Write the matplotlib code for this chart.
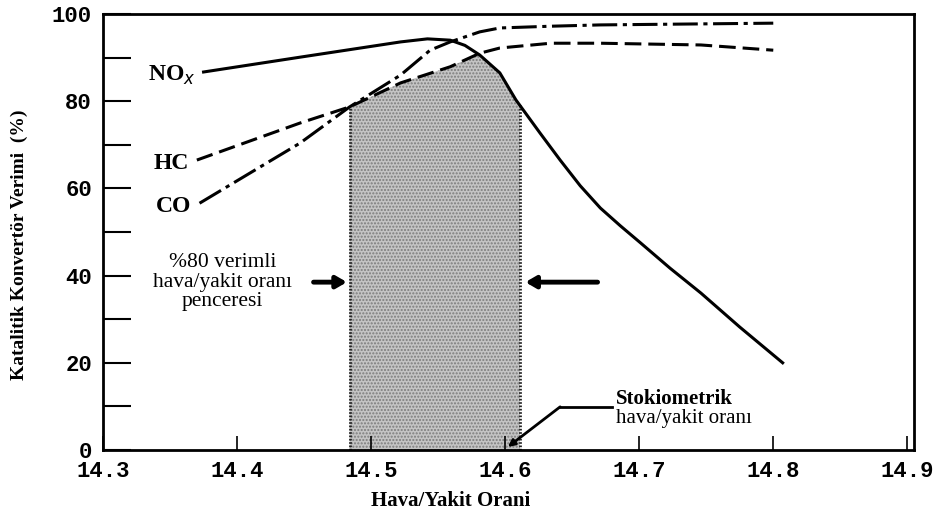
import numpy as np
import matplotlib.pyplot as plt

plt.rcParams['lines.scale_dashes'] = False

# values
nox_x = [14.375, 14.447, 14.522, 14.542, 14.559, 14.570, 14.581, 14.596,
         14.608, 14.626, 14.641, 14.656, 14.671, 14.686, 14.701, 14.723,
         14.746, 14.775, 14.807]
nox_y = [86.7, 90.1, 93.6, 94.3, 94.0, 92.8, 90.6, 86.5,
         80.3, 72.7, 66.5, 60.6, 55.5, 51.4, 47.5, 41.7,
         36.0, 28.2, 20.0]

hc_x = [14.370, 14.447, 14.484, 14.522, 14.559, 14.581, 14.596, 14.634,
        14.671, 14.746, 14.800]
hc_y = [66.5, 75.0, 78.7, 84.2, 87.9, 91.0, 92.2, 93.3, 93.3, 92.9, 91.7]

co_x = [14.372, 14.447, 14.484, 14.522, 14.544, 14.559, 14.581, 14.596,
        14.634, 14.671, 14.800]
co_y = [56.6, 70.4, 78.7, 86.0, 91.7, 93.6, 95.9, 96.8, 97.2, 97.5, 97.9]

window = [14.484, 14.611]
stoich = 14.602

xticks = [14.3, 14.4, 14.5, 14.6, 14.7, 14.8, 14.9]
yticks = [0, 20, 40, 60, 80, 100]

if __name__ == "__main__":

    fig = plt.figure(figsize=(9.46, 5.15), dpi=100)
    ax = fig.add_axes([0.1089, 0.1262, 0.8573, 0.8466])

    ax.set_xlim(14.3, 14.905)
    ax.set_ylim(0, 100)

    # shaded window, top follows the lowest curve
    xs = np.linspace(window[0], window[1], 200)
    top = np.minimum(np.interp(xs, hc_x, hc_y), np.interp(xs, co_x, co_y))
    top = np.minimum(top, np.interp(xs, nox_x, nox_y))
    ax.fill_between(xs, 0, top, facecolor='#c4c4c4', edgecolor='#7c7c7c',
                    hatch='.....', linewidth=0, zorder=1)
    for wx, wy in zip(window, [top[0], top[-1]]):
        ax.plot([wx, wx], [0, wy], color='#222222', lw=2, ls=(0, (1.2, 1.2)),
                zorder=2)

    ax.plot(nox_x, nox_y, color='black', lw=2.2, zorder=3)
    ax.plot(hc_x, hc_y, color='black', lw=2.2, ls=(0, (12, 5)), zorder=3)
    ax.plot(co_x, co_y, color='black', lw=2.2, ls=(0, (18, 4, 3, 4)), zorder=3)

    serif = 'Liberation Serif'
    ax.text(14.369, 86.0, 'NO$_x$', family=serif, size=17, fontweight='bold',
            ha='right', va='center')
    ax.text(14.364, 65.8, 'HC', family=serif, size=17, fontweight='bold',
            ha='right', va='center')
    ax.text(14.366, 55.8, 'CO', family=serif, size=17, fontweight='bold',
            ha='right', va='center')

    ax.text(14.389, 38.5, '%80 verimli\nhava/yakit oranı\npenceresi',
            family=serif, size=15.5, ha='center', va='center',
            linespacing=1.05)
    ax.annotate('', xy=(window[0], 38.5), xytext=(14.455, 38.5),
                arrowprops=dict(arrowstyle='-|>,head_width=0.35,head_length=0.6',
                                color='black', lw=3.5))
    ax.annotate('', xy=(window[1] + 0.002, 38.5), xytext=(14.671, 38.5),
                arrowprops=dict(arrowstyle='-|>,head_width=0.35,head_length=0.6',
                                color='black', lw=3.5))

    ax.text(14.683, 11.8, 'Stokiometrik', family=serif, size=15,
            fontweight='bold', ha='left', va='center')
    ax.text(14.683, 7.3, 'hava/yakit oranı', family=serif, size=15,
            ha='left', va='center')
    ax.plot([14.680, 14.641], [9.9, 9.9], color='black', lw=2)
    ax.annotate('', xy=(stoich, 0.7), xytext=(14.641, 9.9),
                arrowprops=dict(arrowstyle='-|>,head_width=0.2,head_length=0.4',
                                color='black', lw=2, shrinkA=0, shrinkB=0))

    ax.set_xticks(xticks)
    ax.set_xticklabels([str(t) for t in xticks])
    ax.set_yticks(yticks)
    ax.set_yticks(range(10, 100, 20), minor=True)
    ax.tick_params(axis='y', which='both', direction='in', length=20,
                   width=1.5, pad=8)
    ax.tick_params(axis='x', direction='in', length=10, width=1.2, pad=8)
    for lab in ax.get_xticklabels() + ax.get_yticklabels():
        lab.set_family('Liberation Mono')
        lab.set_fontweight('bold')
        lab.set_fontsize(16)

    for sp in ax.spines.values():
        sp.set_linewidth(2)

    ax.set_xlabel('Hava/Yakit Orani', family=serif, fontweight='bold', size=15)
    ax.xaxis.set_label_coords(0.428, -0.095)
    ax.set_ylabel('Katalitik Konvertör Verimi  (%)', family=serif,
                  fontweight='bold', size=14)
    ax.yaxis.set_label_coords(-0.092, 0.47)

    fig.savefig('out.png', dpi=100)
